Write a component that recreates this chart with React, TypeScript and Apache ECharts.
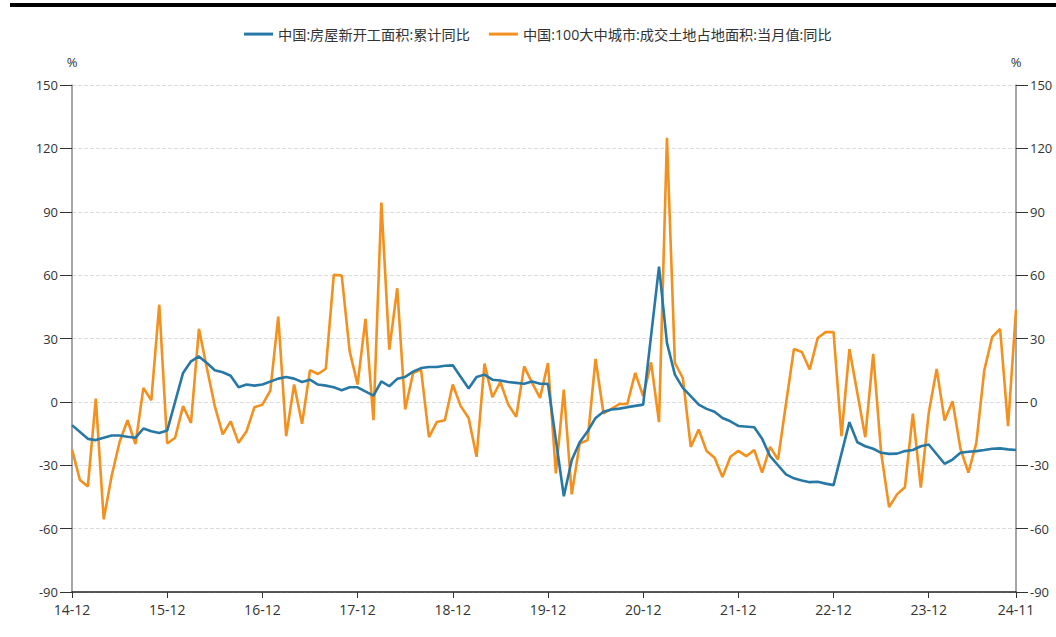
import React, { useEffect, useRef } from "react";
import * as echarts from "echarts";

// Categories: monthly from 2014-12 to 2024-11 (YY-MM)
const categories: string[] = (() => {
  const out: string[] = [];
  let y = 2014;
  let m = 12;
  while (!(y === 2024 && m === 12)) {
    out.push(String(y % 100).padStart(2, "0") + "-" + String(m).padStart(2, "0"));
    m += 1;
    if (m > 12) {
      m = 1;
      y += 1;
    }
  }
  return out;
})();

const seriesNames = [
  "中国:房屋新开工面积:累计同比",
  "中国:100大中城市:成交土地占地面积:当月值:同比",
];

// 房屋新开工面积:累计同比 (January has no release -> null)
const newStartsYoY: (number | null)[] = [
  -11, null, -17.5, -18.1, -17, -15.9, -15.9, -16.5, -17, -12.6, -13.9, -14.7,
  -13.6, null, 13.7, 19.2, 21.5, 18.4, 15, 14, 12.4, 6.9, 8.2, 7.7,
  8.2, null, 11, 11.8, 11, 9.4, 10.5, 8.2, 7.7, 6.9, 5.5, 6.9,
  6.9, null, 3, 9.7, 7.4, 10.9, 11.8, 14.3, 16, 16.5, 16.5, 17.1,
  17.3, null, 6.3, 11.8, 12.9, 10.5, 10.1, 9.4, 9, 8.6, 9.7, 8.6,
  8.5, null, -44.7, -27.5, -19.1, -13.9, -7.6, -4.7, -3.6, -3.2, -2.5, -1.9,
  -1.3, null, 64, 27.9, 12.9, 6.6, 2.7, -1.3, -3.3, -4.7, -7.6, -9.2,
  -11.4, null, -12, -17.5, -25.7, -30, -34.3, -36.2, -37.2, -38, -37.8, -38.7,
  -39.4, null, -9.6, -19.1, -21, -22.2, -24.1, -24.6, -24.5, -23.3, -22.8, -21,
  -20.2, null, -29.3, -27.3, -24.1, -23.6, -23.3, -22.8, -22.2, -22, -22.5, -22.8,
];

// 100大中城市:成交土地占地面积:当月值:同比
const landAreaYoY: number[] = [
  -22.5, -37, -40, 1.5, -55.6, -35, -19, -8.7, -20, 6.6, 0.8, 46,
  -19.7, -17, -2, -10, 34.6, 16, -2, -15.4, -9.2, -19.4, -13.9, -2.5,
  -1.3, 5.3, 40.4, -16.2, 8.2, -10.4, 15, 13.2, 15.7, 60.1, 59.8, 24,
  8.2, 39.3, -8.7, 94.3, 24.7, 53.8, -3.6, 13.7, 15.3, -16.7, -9.5, -8.7,
  8.2, -2, -7.6, -26, 18.1, 2.2, 9.4, -1.3, -7.1, 16.8, 9, 1.9,
  18.4, -33.9, 5.8, -43.8, -19.7, -18.1, 20.3, -5.5, -3.3, -1, -1, 13.7,
  2.7, 18.7, -9.6, 125, 18.4, 11.3, -21.3, -13.1, -23.3, -26.5, -35.6, -26,
  -23.2, -25.7, -22.8, -33.5, -21.3, -27.3, -1, 25, 23.6, 15.3, 30.2, 33,
  33, -16.2, 25, 4.2, -16.7, 22.7, -24.1, -49.8, -43.8, -40.4, -5.6, -40.6,
  -5.2, 15.6, -8.8, 0.3, -22.2, -33.5, -19.4, 14.9, 30.7, 34.5, -11.5, 43.6,
];

const yMin = -90;
const yMax = 150;
const yInterval = 30;

const FONT = "'Open Sans', 'Noto Sans CJK SC', sans-serif";
const BLUE = "#2878a6";
const ORANGE = "#f4901e";

export default function App() {
  const ref = useRef<HTMLDivElement>(null);

  useEffect(() => {
    if (!ref.current) return;
    const chart = echarts.init(ref.current, undefined, { renderer: "svg" });
    const lastIdx = categories.length - 1;
    const showIdx = (i: number) => i % 12 === 0 || i === lastIdx;

    const yAxisCommon = {
      type: "value" as const,
      min: yMin,
      max: yMax,
      interval: yInterval,
      name: "%",
      nameGap: 17,
      nameTextStyle: { color: "#333", fontSize: 13, fontFamily: FONT },
      axisLine: { show: true, onZero: false, lineStyle: { color: "#888", width: 1.5 } },
      axisTick: { show: true, length: 12, lineStyle: { color: "#333", width: 1 } },
      axisLabel: { color: "#333", fontSize: 13, fontFamily: FONT, margin: 14 },
    };

    chart.setOption({
      animation: false,
      backgroundColor: "#fff",
      legend: {
        top: 22,
        left: 239,
        icon: "rect",
        itemWidth: 29,
        itemHeight: 3,
        itemGap: 19,
        textStyle: { color: "#333", fontSize: 14.2, fontFamily: FONT },
        data: seriesNames,
      },
      grid: { left: 72, right: 40, top: 85, bottom: 45, containLabel: false },
      xAxis: {
        type: "category",
        data: categories,
        boundaryGap: false,
        axisLine: { onZero: false, lineStyle: { color: "#222", width: 1.5 } },
        axisTick: { show: true, length: 6, interval: (i: number) => showIdx(i), lineStyle: { color: "#333" } },
        axisLabel: {
          interval: (i: number) => showIdx(i),
          color: "#333",
          fontSize: 14,
          fontFamily: FONT,
          margin: 10,
        },
        splitLine: { show: false },
      },
      yAxis: [
        {
          ...yAxisCommon,
          position: "left",
          splitLine: { show: true, lineStyle: { color: "#dcdcdc", type: "dashed", width: 1 } },
        },
        {
          ...yAxisCommon,
          position: "right",
          splitLine: { show: false },
        },
      ],
      series: [
        {
          name: seriesNames[0],
          type: "line",
          data: newStartsYoY,
          connectNulls: true,
          showSymbol: false,
          symbol: "none",
          lineStyle: { color: BLUE, width: 2.6 },
          itemStyle: { color: BLUE },
          yAxisIndex: 0,
          z: 3,
        },
        {
          name: seriesNames[1],
          type: "line",
          data: landAreaYoY,
          showSymbol: false,
          symbol: "none",
          lineStyle: { color: ORANGE, width: 2.6 },
          itemStyle: { color: ORANGE },
          yAxisIndex: 0,
          z: 2,
        },
      ],
    });

    return () => {
      chart.dispose();
    };
  }, []);

  return (
    <>
      <div
        style={{
          position: "absolute",
          left: 10,
          top: 3,
          width: 1046,
          height: 4,
          background: "#000",
          zIndex: 2,
        }}
      />
      <div
        ref={ref}
        style={{ position: "absolute", left: 0, top: 0, width: 1056, height: 637 }}
      />
    </>
  );
}
